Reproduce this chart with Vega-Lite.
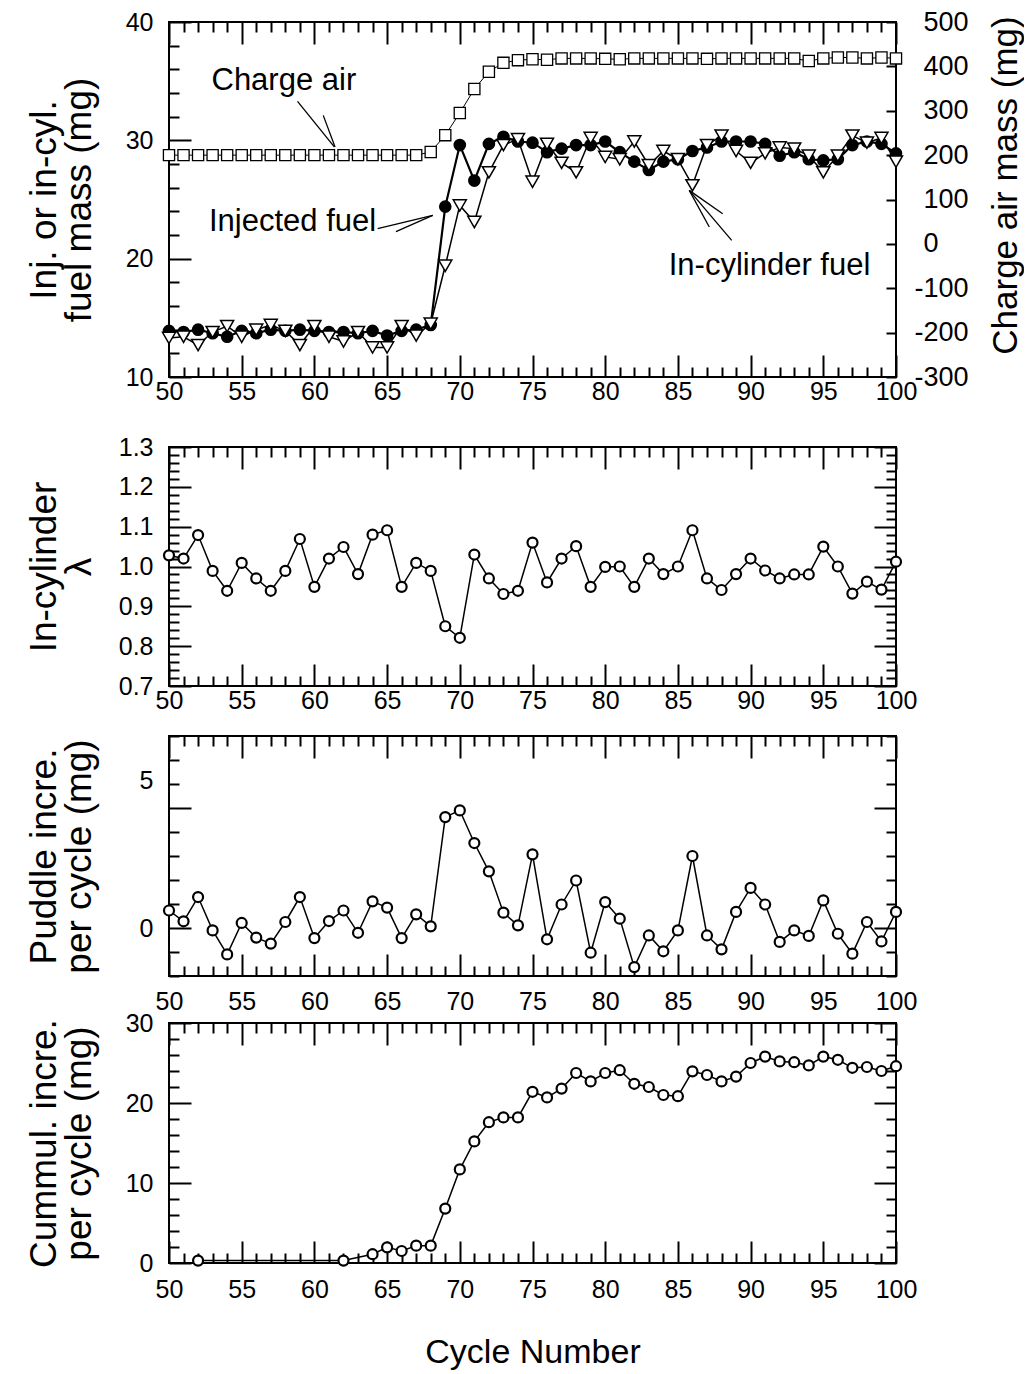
{
  "$schema": "https://vega.github.io/schema/vega-lite/v6.json",
  "padding": {"left": 24, "top": 7, "right": 0, "bottom": 0},
  "background": "white",
  "spacing": -10,
  "config": {
    "view": {"stroke": "black", "strokeWidth": 2},
    "axis": {
      "domain": false, "grid": false, "tickColor": "black", "tickWidth": 2,
      "labelColor": "black", "titleColor": "black",
      "labelFont": "Liberation Sans", "titleFont": "Liberation Sans",
      "labelFontSize": 25, "titleFontWeight": "normal",
      "labelOverlap": false, "labelFlush": false
    },
    "text": {"font": "Liberation Sans"}
  },
  "datasets": {
    "cycles": [
      {"cycle": 50, "injected": 13.9, "incyl": 13.3, "air": 200, "lambda": 1.028, "puddle": 0.73},
      {"cycle": 51, "injected": 13.8, "incyl": 13.4, "air": 200, "lambda": 1.02, "puddle": 0.28},
      {"cycle": 52, "injected": 14.0, "incyl": 12.7, "air": 200, "lambda": 1.079, "puddle": 1.29, "cumul": 0.3},
      {"cycle": 53, "injected": 13.7, "incyl": 13.8, "air": 200, "lambda": 0.989, "puddle": -0.1},
      {"cycle": 54, "injected": 13.4, "incyl": 14.3, "air": 200, "lambda": 0.939, "puddle": -1.1},
      {"cycle": 55, "injected": 13.9, "incyl": 13.4, "air": 200, "lambda": 1.009, "puddle": 0.21},
      {"cycle": 56, "injected": 13.7, "incyl": 14.0, "air": 200, "lambda": 0.97, "puddle": -0.4},
      {"cycle": 57, "injected": 14.0, "incyl": 14.4, "air": 200, "lambda": 0.939, "puddle": -0.65},
      {"cycle": 58, "injected": 13.9, "incyl": 13.9, "air": 200, "lambda": 0.989, "puddle": 0.25},
      {"cycle": 59, "injected": 14.0, "incyl": 12.7, "air": 200, "lambda": 1.069, "puddle": 1.29},
      {"cycle": 60, "injected": 13.9, "incyl": 14.3, "air": 200, "lambda": 0.949, "puddle": -0.42},
      {"cycle": 61, "injected": 13.8, "incyl": 13.4, "air": 200, "lambda": 1.02, "puddle": 0.29},
      {"cycle": 62, "injected": 13.8, "incyl": 13.0, "air": 200, "lambda": 1.049, "puddle": 0.73, "cumul": 0.3},
      {"cycle": 63, "injected": 13.7, "incyl": 13.8, "air": 200, "lambda": 0.981, "puddle": -0.2},
      {"cycle": 64, "injected": 13.9, "incyl": 12.5, "air": 200, "lambda": 1.08, "puddle": 1.11, "cumul": 1.1},
      {"cycle": 65, "injected": 13.5, "incyl": 12.5, "air": 200, "lambda": 1.091, "puddle": 0.85, "cumul": 1.96},
      {"cycle": 66, "injected": 13.9, "incyl": 14.3, "air": 200, "lambda": 0.949, "puddle": -0.42, "cumul": 1.5},
      {"cycle": 67, "injected": 14.0, "incyl": 13.5, "air": 200, "lambda": 1.009, "puddle": 0.57, "cumul": 2.17},
      {"cycle": 68, "injected": 14.4, "incyl": 14.5, "air": 207, "lambda": 0.989, "puddle": 0.07, "cumul": 2.17},
      {"cycle": 69, "injected": 24.4, "incyl": 19.4, "air": 245, "lambda": 0.85, "puddle": 4.62, "cumul": 6.8},
      {"cycle": 70, "injected": 29.6, "incyl": 24.5, "air": 295, "lambda": 0.821, "puddle": 4.9, "cumul": 11.7},
      {"cycle": 71, "injected": 26.6, "incyl": 23.1, "air": 349, "lambda": 1.03, "puddle": 3.54, "cumul": 15.2},
      {"cycle": 72, "injected": 29.7, "incyl": 27.3, "air": 388, "lambda": 0.97, "puddle": 2.36, "cumul": 17.6},
      {"cycle": 73, "injected": 30.3, "incyl": 29.6, "air": 408, "lambda": 0.931, "puddle": 0.64, "cumul": 18.2},
      {"cycle": 74, "injected": 29.9, "incyl": 30.1, "air": 414, "lambda": 0.939, "puddle": 0.11, "cumul": 18.2},
      {"cycle": 75, "injected": 29.8, "incyl": 26.5, "air": 416, "lambda": 1.06, "puddle": 3.07, "cumul": 21.4},
      {"cycle": 76, "injected": 29.0, "incyl": 29.7, "air": 415, "lambda": 0.96, "puddle": -0.47, "cumul": 20.7},
      {"cycle": 77, "injected": 29.3, "incyl": 28.1, "air": 418, "lambda": 1.02, "puddle": 0.98, "cumul": 21.8},
      {"cycle": 78, "injected": 29.6, "incyl": 27.3, "air": 418, "lambda": 1.051, "puddle": 1.98, "cumul": 23.75},
      {"cycle": 79, "injected": 29.6, "incyl": 30.2, "air": 418, "lambda": 0.949, "puddle": -1.03, "cumul": 22.7},
      {"cycle": 80, "injected": 29.9, "incyl": 28.6, "air": 417, "lambda": 0.999, "puddle": 1.08, "cumul": 23.75},
      {"cycle": 81, "injected": 29.0, "incyl": 28.4, "air": 416, "lambda": 1.0, "puddle": 0.39, "cumul": 24.1},
      {"cycle": 82, "injected": 28.2, "incyl": 29.9, "air": 418, "lambda": 0.949, "puddle": -1.63, "cumul": 22.4},
      {"cycle": 83, "injected": 27.5, "incyl": 27.9, "air": 418, "lambda": 1.02, "puddle": -0.31, "cumul": 22.0},
      {"cycle": 84, "injected": 28.2, "incyl": 29.1, "air": 418, "lambda": 0.981, "puddle": -0.97, "cumul": 21.0},
      {"cycle": 85, "injected": 28.4, "incyl": 28.4, "air": 418, "lambda": 1.0, "puddle": -0.1, "cumul": 20.85},
      {"cycle": 86, "injected": 29.1, "incyl": 26.2, "air": 418, "lambda": 1.091, "puddle": 3.0, "cumul": 23.96},
      {"cycle": 87, "injected": 29.4, "incyl": 29.6, "air": 417, "lambda": 0.97, "puddle": -0.31, "cumul": 23.5},
      {"cycle": 88, "injected": 29.9, "incyl": 30.4, "air": 418, "lambda": 0.941, "puddle": -0.89, "cumul": 22.7},
      {"cycle": 89, "injected": 29.9, "incyl": 29.1, "air": 418, "lambda": 0.981, "puddle": 0.67, "cumul": 23.3},
      {"cycle": 90, "injected": 29.9, "incyl": 28.1, "air": 418, "lambda": 1.02, "puddle": 1.67, "cumul": 25.0},
      {"cycle": 91, "injected": 29.7, "incyl": 28.9, "air": 418, "lambda": 0.99, "puddle": 0.98, "cumul": 25.8},
      {"cycle": 92, "injected": 28.7, "incyl": 29.4, "air": 418, "lambda": 0.97, "puddle": -0.58, "cumul": 25.2},
      {"cycle": 93, "injected": 29.0, "incyl": 29.3, "air": 418, "lambda": 0.98, "puddle": -0.1, "cumul": 25.1},
      {"cycle": 94, "injected": 28.4, "incyl": 28.7, "air": 412, "lambda": 0.98, "puddle": -0.33, "cumul": 24.7},
      {"cycle": 95, "injected": 28.3, "incyl": 27.3, "air": 418, "lambda": 1.05, "puddle": 1.15, "cumul": 25.8},
      {"cycle": 96, "injected": 28.4, "incyl": 28.7, "air": 420, "lambda": 1.0, "puddle": -0.24, "cumul": 25.4},
      {"cycle": 97, "injected": 29.6, "incyl": 30.4, "air": 420, "lambda": 0.932, "puddle": -1.07, "cumul": 24.4},
      {"cycle": 98, "injected": 29.9, "incyl": 29.8, "air": 418, "lambda": 0.962, "puddle": 0.25, "cumul": 24.5},
      {"cycle": 99, "injected": 29.7, "incyl": 30.2, "air": 420, "lambda": 0.942, "puddle": -0.56, "cumul": 24.0},
      {"cycle": 100, "injected": 28.9, "incyl": 28.2, "air": 418, "lambda": 1.012, "puddle": 0.67, "cumul": 24.6}
    ],
    "notes": [
      {"label": "Charge air", "cycle": 57.9, "value": 35.0},
      {"label": "Injected fuel", "cycle": 58.5, "value": 23.1},
      {"label": "In-cylinder fuel", "cycle": 91.3, "value": 19.4}
    ],
    "arrows": [
      {"cycle": 58.84, "value": 33.3, "cycle2": 61.37, "value2": 29.44},
      {"cycle": 60.61, "value": 32.11, "cycle2": 61.42, "value2": 29.44},
      {"cycle": 64.35, "value": 22.54, "cycle2": 68.14, "value2": 23.66},
      {"cycle": 65.61, "value": 22.28, "cycle2": 68.14, "value2": 23.66},
      {"cycle": 85.78, "value": 25.77, "cycle2": 88.08, "value2": 23.8},
      {"cycle": 85.78, "value": 25.77, "cycle2": 87.16, "value2": 22.68},
      {"cycle": 85.78, "value": 25.77, "cycle2": 88.7, "value2": 21.55}
    ]
  },
  "vconcat": [
    {
      "width": 727, "height": 355,
      "data": {"name": "cycles"},
      "resolve": {"scale": {"y": "independent"}, "axis": {"x": "independent", "y": "independent"}},
      "layer": [
        {
          "mark": {"type": "line", "color": "black", "strokeWidth": 1},
          "encoding": {
            "x": {"field": "cycle", "type": "quantitative", "scale": {"domain": [50, 100], "nice": false, "zero": false},
              "axis": {"orient": "bottom", "values": [50,51,52,53,54,55,56,57,58,59,60,61,62,63,64,65,66,67,68,69,70,71,72,73,74,75,76,77,78,79,80,81,82,83,84,85,86,87,88,89,90,91,92,93,94,95,96,97,98,99,100],
                "tickSize": {"condition": {"test": "datum.value % 5 === 0", "value": -22}, "value": -10},
                "labelExpr": "datum.value % 5 === 0 ? datum.label : ''",
                "labelFontSize": {"condition": {"test": "datum.value % 5 === 0", "value": 25}, "value": 0},
                "labelPadding": 24, "minExtent": 66, "title": null}},
            "y": {"field": "air", "type": "quantitative", "scale": {"domain": [-300, 500], "nice": false, "zero": false},
              "axis": {"orient": "right", "values": [-300,-200,-100,0,100,200,300,400,500], "tickSize": -10,
                "labelExpr": "'' + datum.value",
                "labelFontSize": 27,
                "labelPadding": {"condition": {"test": "datum.value < 0", "value": 28}, "value": 37},
                "labelAlign": "left", "minExtent": 83,
                "title": "Charge air mass (mg)", "titleFontSize": 35, "titleAngle": -90, "titleBaseline": "top", "titleAlign": "center",
                "titleX": 92, "titleY": 163}}
          }
        },
        {
          "mark": {"type": "point", "shape": "square", "filled": true, "fill": "white", "stroke": "black", "strokeWidth": 1.3, "size": 125, "opacity": 1},
          "encoding": {
            "x": {"field": "cycle", "type": "quantitative", "scale": {"domain": [50, 100], "nice": false, "zero": false}, "axis": null},
            "y": {"field": "air", "type": "quantitative", "scale": {"domain": [-300, 500], "nice": false, "zero": false}, "axis": null}
          }
        },
        {
          "mark": {"type": "line", "color": "black", "strokeWidth": 1.5},
          "encoding": {
            "x": {"field": "cycle", "type": "quantitative", "scale": {"domain": [50, 100], "nice": false, "zero": false}, "axis": null},
            "y": {"field": "incyl", "type": "quantitative", "scale": {"domain": [10, 40], "nice": false, "zero": false}, "axis": null}
          }
        },
        {
          "mark": {"type": "line", "color": "black", "strokeWidth": 2.2},
          "encoding": {
            "x": {"field": "cycle", "type": "quantitative", "scale": {"domain": [50, 100], "nice": false, "zero": false},
              "axis": {"orient": "top", "values": [50,51,52,53,54,55,56,57,58,59,60,61,62,63,64,65,66,67,68,69,70,71,72,73,74,75,76,77,78,79,80,81,82,83,84,85,86,87,88,89,90,91,92,93,94,95,96,97,98,99,100],
                "tickSize": {"condition": {"test": "datum.value % 5 === 0", "value": -22}, "value": -10},
                "labels": false, "title": null, "minExtent": 0}},
            "y": {"field": "injected", "type": "quantitative", "scale": {"domain": [10, 40], "nice": false, "zero": false},
              "axis": {"orient": "left", "values": [10,12,14,16,18,20,22,24,26,28,30,32,34,36,38,40],
                "tickSize": {"condition": {"test": "datum.value % 10 === 0", "value": -22}, "value": -10},
                "labelExpr": "datum.value % 10 === 0 ? datum.label : ''",
                "labelFontSize": {"condition": {"test": "datum.value % 10 === 0", "value": 25}, "value": 0},
                "labelPadding": 38, "minExtent": 55,
                "title": ["Inj. or in-cyl.", "fuel mass (mg)"], "titleFontSize": 37, "titleLineHeight": 35, "titlePadding": 16}}
          }
        },
        {
          "mark": {"type": "point", "shape": "circle", "filled": true, "color": "black", "size": 160, "opacity": 1},
          "encoding": {
            "x": {"field": "cycle", "type": "quantitative", "scale": {"domain": [50, 100], "nice": false, "zero": false}, "axis": null},
            "y": {"field": "injected", "type": "quantitative", "scale": {"domain": [10, 40], "nice": false, "zero": false}, "axis": null}
          }
        },
        {
          "mark": {"type": "point", "shape": "triangle-down", "filled": true, "fill": "white", "stroke": "black", "strokeWidth": 1.5, "size": 170, "opacity": 1},
          "encoding": {
            "x": {"field": "cycle", "type": "quantitative", "scale": {"domain": [50, 100], "nice": false, "zero": false}, "axis": null},
            "y": {"field": "incyl", "type": "quantitative", "scale": {"domain": [10, 40], "nice": false, "zero": false}, "axis": null}
          }
        },
        {
          "data": {"name": "arrows"},
          "mark": {"type": "rule", "color": "black", "strokeWidth": 1.3},
          "encoding": {
            "x": {"field": "cycle", "type": "quantitative", "scale": {"domain": [50, 100], "nice": false, "zero": false}, "axis": null},
            "x2": {"field": "cycle2"},
            "y": {"field": "value", "type": "quantitative", "scale": {"domain": [10, 40], "nice": false, "zero": false}, "axis": null},
            "y2": {"field": "value2"}
          }
        },
        {
          "data": {"name": "notes"},
          "mark": {"type": "text", "fontSize": 31, "font": "Liberation Sans", "color": "black", "align": "center", "baseline": "middle"},
          "encoding": {
            "x": {"field": "cycle", "type": "quantitative", "scale": {"domain": [50, 100], "nice": false, "zero": false}, "axis": null},
            "y": {"field": "value", "type": "quantitative", "scale": {"domain": [10, 40], "nice": false, "zero": false}, "axis": null},
            "text": {"field": "label", "type": "nominal"}
          }
        }
      ]
    },
    {
      "width": 727, "height": 239,
      "data": {"name": "cycles"},
      "resolve": {"axis": {"x": "independent", "y": "independent"}},
      "layer": [
        {
          "mark": {"type": "line", "color": "black", "strokeWidth": 1.5},
          "encoding": {
            "x": {"field": "cycle", "type": "quantitative", "scale": {"domain": [50, 100], "nice": false, "zero": false},
              "axis": {"orient": "bottom", "values": [50,51,52,53,54,55,56,57,58,59,60,61,62,63,64,65,66,67,68,69,70,71,72,73,74,75,76,77,78,79,80,81,82,83,84,85,86,87,88,89,90,91,92,93,94,95,96,97,98,99,100],
                "tickSize": {"condition": {"test": "datum.value % 5 === 0", "value": -22}, "value": -10},
                "labelExpr": "datum.value % 5 === 0 ? datum.label : ''",
                "labelFontSize": {"condition": {"test": "datum.value % 5 === 0", "value": 25}, "value": 0},
                "labelPadding": 24, "minExtent": 49, "title": null}},
            "y": {"field": "lambda", "type": "quantitative", "scale": {"domain": [0.7, 1.3], "nice": false, "zero": false},
              "axis": {"orient": "left", "values": [0.7,0.72,0.74,0.76,0.78,0.8,0.82,0.84,0.86,0.88,0.9,0.92,0.94,0.96,0.98,1,1.02,1.04,1.06,1.08,1.1,1.12,1.14,1.16,1.18,1.2,1.22,1.24,1.26,1.28,1.3],
                "format": ".1f",
                "tickSize": {"condition": {"test": "abs(datum.value * 10 - round(datum.value * 10)) < 0.001", "value": -22}, "value": -10},
                "labelExpr": "abs(datum.value * 10 - round(datum.value * 10)) < 0.001 ? datum.label : ''",
                "labelFontSize": {"condition": {"test": "abs(datum.value * 10 - round(datum.value * 10)) < 0.001", "value": 25}, "value": 0},
                "labelPadding": 38, "minExtent": 55,
                "title": ["In-cylinder", "λ"], "titleFontSize": 37, "titleLineHeight": 35, "titlePadding": 16}}
          }
        },
        {
          "mark": {"type": "point", "shape": "circle", "filled": true, "fill": "white", "stroke": "black", "strokeWidth": 2.2, "size": 100, "opacity": 1},
          "encoding": {
            "x": {"field": "cycle", "type": "quantitative", "scale": {"domain": [50, 100], "nice": false, "zero": false},
              "axis": {"orient": "top", "values": [50,51,52,53,54,55,56,57,58,59,60,61,62,63,64,65,66,67,68,69,70,71,72,73,74,75,76,77,78,79,80,81,82,83,84,85,86,87,88,89,90,91,92,93,94,95,96,97,98,99,100],
                "tickSize": {"condition": {"test": "datum.value % 5 === 0", "value": -22}, "value": -10},
                "labels": false, "title": null, "minExtent": 0}},
            "y": {"field": "lambda", "type": "quantitative", "scale": {"domain": [0.7, 1.3], "nice": false, "zero": false},
              "axis": {"orient": "right", "values": [0.7,0.72,0.74,0.76,0.78,0.8,0.82,0.84,0.86,0.88,0.9,0.92,0.94,0.96,0.98,1,1.02,1.04,1.06,1.08,1.1,1.12,1.14,1.16,1.18,1.2,1.22,1.24,1.26,1.28,1.3],
                "tickSize": {"condition": {"test": "abs(datum.value * 10 - round(datum.value * 10)) < 0.001", "value": -22}, "value": -10},
                "labels": false, "title": null, "minExtent": 0}}
          }
        }
      ]
    },
    {
      "width": 727, "height": 240,
      "data": {"name": "cycles"},
      "resolve": {"axis": {"x": "independent", "y": "independent"}},
      "layer": [
        {
          "mark": {"type": "line", "color": "black", "strokeWidth": 1.5},
          "encoding": {
            "x": {"field": "cycle", "type": "quantitative", "scale": {"domain": [50, 100], "nice": false, "zero": false},
              "axis": {"orient": "bottom", "values": [50,51,52,53,54,55,56,57,58,59,60,61,62,63,64,65,66,67,68,69,70,71,72,73,74,75,76,77,78,79,80,81,82,83,84,85,86,87,88,89,90,91,92,93,94,95,96,97,98,99,100],
                "tickSize": {"condition": {"test": "datum.value % 5 === 0", "value": -22}, "value": -10},
                "labelExpr": "datum.value % 5 === 0 ? datum.label : ''",
                "labelFontSize": {"condition": {"test": "datum.value % 5 === 0", "value": 25}, "value": 0},
                "labelPadding": 35, "minExtent": 43, "title": null}},
            "y": {"field": "puddle", "type": "quantitative", "scale": {"domain": [-2, 8], "nice": false, "zero": false},
              "axis": {"orient": "left", "values": [-2,-1,0,1,2,3,4,5,6,7,8],
                "tickSize": {"condition": {"test": "datum.value % 5 === 0", "value": -22}, "value": -10},
                "labelExpr": "datum.value % 5 === 0 ? datum.label : ''",
                "labelFontSize": {"condition": {"test": "datum.value % 5 === 0", "value": 25}, "value": 0},
                "labelOffset": {"condition": {"test": "datum.value === 5", "value": -28}, "value": 0},
                "labelPadding": 38, "minExtent": 55,
                "title": ["Puddle incre.", "per cycle (mg)"], "titleFontSize": 37, "titleLineHeight": 35, "titlePadding": 16}}
          }
        },
        {
          "mark": {"type": "point", "shape": "circle", "filled": true, "fill": "white", "stroke": "black", "strokeWidth": 2.2, "size": 100, "opacity": 1},
          "encoding": {
            "x": {"field": "cycle", "type": "quantitative", "scale": {"domain": [50, 100], "nice": false, "zero": false},
              "axis": {"orient": "top", "values": [50,51,52,53,54,55,56,57,58,59,60,61,62,63,64,65,66,67,68,69,70,71,72,73,74,75,76,77,78,79,80,81,82,83,84,85,86,87,88,89,90,91,92,93,94,95,96,97,98,99,100],
                "tickSize": {"condition": {"test": "datum.value % 5 === 0", "value": -22}, "value": -10},
                "labels": false, "title": null, "minExtent": 0}},
            "y": {"field": "puddle", "type": "quantitative", "scale": {"domain": [-2, 8], "nice": false, "zero": false},
              "axis": {"orient": "right", "values": [-2,-1,0,1,2,3,4,5,6,7,8],
                "tickSize": {"condition": {"test": "datum.value % 5 === 0", "value": -22}, "value": -10},
                "labels": false, "title": null, "minExtent": 0}}
          }
        }
      ]
    },
    {
      "width": 727, "height": 240,
      "data": {"name": "cycles"},
      "transform": [{"filter": "isValid(datum.cumul)"}],
      "resolve": {"axis": {"x": "independent", "y": "independent"}},
      "layer": [
        {
          "mark": {"type": "line", "color": "black", "strokeWidth": 1.5},
          "encoding": {
            "x": {"field": "cycle", "type": "quantitative", "scale": {"domain": [50, 100], "nice": false, "zero": false},
              "axis": {"orient": "bottom", "values": [50,51,52,53,54,55,56,57,58,59,60,61,62,63,64,65,66,67,68,69,70,71,72,73,74,75,76,77,78,79,80,81,82,83,84,85,86,87,88,89,90,91,92,93,94,95,96,97,98,99,100],
                "tickSize": {"condition": {"test": "datum.value % 5 === 0", "value": -22}, "value": -10},
                "labelExpr": "datum.value % 5 === 0 ? datum.label : ''",
                "labelFontSize": {"condition": {"test": "datum.value % 5 === 0", "value": 25}, "value": 0},
                "labelPadding": 36, "minExtent": 40,
                "title": "Cycle Number", "titleFontSize": 34, "titlePadding": 32}},
            "y": {"field": "cumul", "type": "quantitative", "scale": {"domain": [0, 30], "nice": false, "zero": false},
              "axis": {"orient": "left", "values": [0,2,4,6,8,10,12,14,16,18,20,22,24,26,28,30],
                "tickSize": {"condition": {"test": "datum.value % 10 === 0", "value": -22}, "value": -10},
                "labelExpr": "datum.value % 10 === 0 ? datum.label : ''",
                "labelFontSize": {"condition": {"test": "datum.value % 10 === 0", "value": 25}, "value": 0},
                "labelPadding": 38, "minExtent": 55,
                "title": ["Cummul. incre.", "per cycle (mg)"], "titleFontSize": 37, "titleLineHeight": 35, "titlePadding": 16}}
          }
        },
        {
          "mark": {"type": "point", "shape": "circle", "filled": true, "fill": "white", "stroke": "black", "strokeWidth": 2.2, "size": 100, "opacity": 1},
          "encoding": {
            "x": {"field": "cycle", "type": "quantitative", "scale": {"domain": [50, 100], "nice": false, "zero": false},
              "axis": {"orient": "top", "values": [50,51,52,53,54,55,56,57,58,59,60,61,62,63,64,65,66,67,68,69,70,71,72,73,74,75,76,77,78,79,80,81,82,83,84,85,86,87,88,89,90,91,92,93,94,95,96,97,98,99,100],
                "tickSize": {"condition": {"test": "datum.value % 5 === 0", "value": -22}, "value": -10},
                "labels": false, "title": null, "minExtent": 0}},
            "y": {"field": "cumul", "type": "quantitative", "scale": {"domain": [0, 30], "nice": false, "zero": false},
              "axis": {"orient": "right", "values": [0,2,4,6,8,10,12,14,16,18,20,22,24,26,28,30],
                "tickSize": {"condition": {"test": "datum.value % 10 === 0", "value": -22}, "value": -10},
                "labels": false, "title": null, "minExtent": 0}}
          }
        }
      ]
    }
  ]
}
